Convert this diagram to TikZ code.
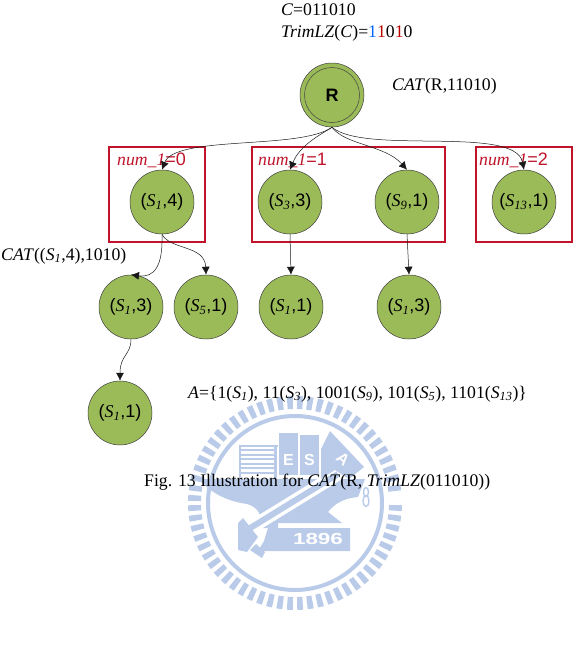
\documentclass[tikz,border=0pt]{standalone}
\usepackage{fontspec}
\setmainfont{Liberation Serif}
\setsansfont{Liberation Sans}
\usetikzlibrary{arrows.meta}
\definecolor{leaf}{HTML}{9BBB59}
\definecolor{boxred}{HTML}{C0142A}
\definecolor{crest}{HTML}{B9CBE8}
\newcommand{\bodytext}{\fontsize{17.7}{20}\selectfont}
% italic serif state name with a small subscript, inside sans labels
\newcommand{\iS}[1]{{\rmfamily\itshape S\textsubscript{#1}}}
\newcommand{\numone}{{\rmfamily\itshape\fontsize{17.7}{20}\selectfont num\_1}}
\tikzset{
  x=1pt, y=-1pt,
  state/.style={circle, draw=black!75, line width=0.5pt, fill=leaf, minimum size=64pt, inner sep=0pt,
    font=\sffamily\fontsize{18}{20}\selectfont},
  group/.style={draw=boxred, line width=1.4pt},
  grouplabel/.style={text=boxred, anchor=base west, inner sep=0pt, font=\sffamily\fontsize{18}{20}\selectfont},
  caption/.style={anchor=base west, inner sep=0pt, font=\bodytext},
  link/.style={draw=black!90, line width=0.5pt, -{Latex[length=8pt,width=8pt]}},
  crestpart/.style={fill=crest, draw=none},
  crestletter/.style={white, inner sep=0pt, font=\sffamily\bfseries\fontsize{16}{16}\selectfont}
}
\begin{document}
\begin{tikzpicture}
\useasboundingbox (0,0) rectangle (576,667);

% university crest
\foreach \a in {0,5.625,...,354}
  \fill[crest] ({295+94*cos(\a+1.2)},{503+94*sin(\a+1.2)}) -- ({295+107*cos(\a+1.2)},{503+107*sin(\a+1.2)})
    -- ({295+107*cos(\a+4.4)},{503+107*sin(\a+4.4)}) -- ({295+94*cos(\a+4.4)},{503+94*sin(\a+4.4)}) -- cycle;
\draw[crest, line width=4pt] (295,503) circle (87);
% anvil
\fill[crestpart] (200,479) -- (365,479) -- (358,497) .. controls (345,498) and (335,503) .. (328,512)
  -- (342,523) -- (278,523) -- (278,528) -- (262,528)
  .. controls (262,515) and (258,507) .. (247,504) .. controls (225,501) and (208,491) .. cycle;
% hammer handle with its white outline
\draw[white, line width=13pt] (247,530) -- (338,474);
\draw[crest, line width=6pt] (247,530) -- (338,474);
\fill[crestpart] (243,518) -- (238,523) -- (238,550) -- (247,552) -- (258,537) -- cycle;
\fill[crestpart] (250,550) -- (262,558) -- (265,552) -- (256,544) -- cycle;
% books
\draw[crest, line width=2pt] (240,445.5) -- (278,445.5);
\draw[crest, line width=2pt] (240,445) -- (240,478);
\draw[crest, line width=3pt] (275,445) -- (275,478);
\foreach \yy in {449,453.5,...,473}
  \fill[crest] (241,\yy) rectangle (274,\yy+2.4);
\fill[crestpart] (279,433) rectangle (298,475);
\fill[crestpart] (300,435) rectangle (319,475);
\fill[crestpart] (330,431) -- (364,467) -- (349,479) -- (335,470) -- (321,479) -- (321,449) -- cycle;
\node[crestletter] at (288.5,460) {E};
\node[crestletter] at (309.5,460) {S};
\node[crestletter, rotate=-40] at (343,459) {A};
% year plate
\fill[crestpart] (268,528) -- (350,528) -- (350,551) -- (258,551) -- (264,541) -- cycle;
\node[white, font=\sffamily\bfseries\fontsize{16}{16}\selectfont, inner sep=0pt, xscale=1.4] at (318,539) {1896};
\draw[crest, line width=1.4pt] (366,492) ellipse (2.5 and 4.5);
\draw[crest, line width=1.4pt] (366,501) ellipse (3 and 5.5);

% states
\node[state] (root) at (332,95) {};
\node[state, minimum size=55pt, font=\sffamily\bfseries\fontsize{18}{20}\selectfont] (rootin) at (332,95) {R};
\node[state] (a) at (162,202) {(\iS{1},4)};
\node[state] (b) at (290,202) {(\iS{3},3)};
\node[state] (c) at (407,202) {(\iS{9},1)};
\node[state] (d) at (524,202) {(\iS{13},1)};
\node[state] (e) at (131,307) {(\iS{1},3)};
\node[state] (f) at (206,307) {(\iS{5},1)};
\node[state] (g) at (291,307) {(\iS{1},1)};
\node[state] (h) at (409,307) {(\iS{1},3)};
\node[state] (i) at (120,413) {(\iS{1},1)};

% groups by number of leading ones
\draw[group] (109,147) rectangle (205,242);
\draw[group] (252,147) rectangle (445,242);
\draw[group] (476,147) rectangle (572,242);
\node[grouplabel] at (117,165) {\numone=0};
\node[grouplabel] at (258,165) {\numone=1};
\node[grouplabel] at (479,165) {\numone=2};

% transitions
\draw[link] (root.south) .. controls (300,150) and (175,135) .. (a.north);
\draw[link] (root.south) .. controls (320,135) and (300,145) .. (b.north);
\draw[link] (root.south) .. controls (345,145) and (385,145) .. (c.north);
\draw[link] (root.south) .. controls (365,155) and (515,125) .. (d.north);
\draw[link] (a.south) .. controls (163,265) and (155,278) .. (e.north);
\draw[link] (a.south) .. controls (170,250) and (205,245) .. (f.north);
\draw[link] (b.south) -- (g.north);
\draw[link] (c.south) -- (h.north);
\draw[link] (e.south) .. controls (131,355) and (120,355) .. (i.north);

% annotations
\node[caption] at (281,15) {\textit{C}=011010};
\node[caption] at (281,37) {\textit{TrimLZ}(\textit{C})=\textcolor{blue!60!cyan}{1}\textcolor{red!75!black}{1}0\textcolor{red!75!black}{1}0};
\node[caption] at (392,90) {\textit{CAT}(R,11010)};
\node[caption] at (1,260) {\textit{CAT}((\iS{1},4),1010)};
\node[caption] at (188,398) {\textit{A}=\{1(\iS{1}), 11(\iS{3}), 1001(\iS{9}), 101(\iS{5}), 1101(\iS{13})\}};
\node[caption] at (144,486) {Fig. 13 Illustration for \textit{CAT}(R, \textit{TrimLZ}(011010))};
\end{tikzpicture}
\end{document}
